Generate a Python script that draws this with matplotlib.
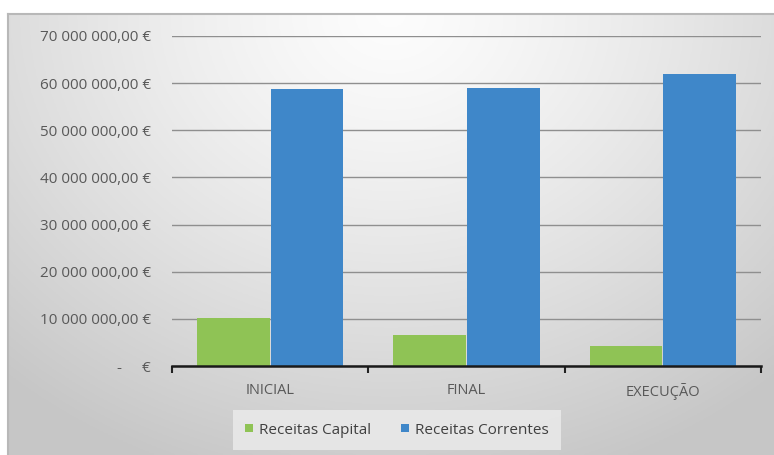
import numpy as np
import matplotlib.pyplot as plt
from matplotlib.ticker import FuncFormatter, FixedLocator

fases = ['INICIAL', 'FINAL', 'EXECUÇÃO']
receitas_capital = [10200000, 6600000, 4300000]
receitas_correntes = [58700000, 58900000, 61900000]

plt.rcParams['font.family'] = ['Open Sans', 'DejaVu Sans']

fig = plt.figure(figsize=(7.74, 4.55), dpi=100)
fig.patch.set_facecolor('white')

# fundo com gradiente radial (claro em cima ao centro, cinzento nos cantos)
bg = fig.add_axes([8 / 774, 0, 766 / 774, 441 / 455], zorder=-10)
yy, xx = np.mgrid[0:1:200j, 0:1:300j]
r = np.sqrt(((xx - 0.5) / 0.75) ** 2 + ((yy - 0.0) / 1.1) ** 2)
r = np.clip(r, 0, 1)
grad = 0.99 - 0.21 * r ** 1.3
bg.imshow(np.dstack([grad] * 3), aspect='auto', extent=[0, 1, 1, 0])
bg.set_axis_off()
bg.plot([0, 0], [0, 1], color='#b8b8b8', lw=1.5, transform=bg.transAxes, clip_on=False)
bg.plot([0, 1], [1, 1], color='#b8b8b8', lw=1.5, transform=bg.transAxes, clip_on=False)

ax = fig.add_axes([172 / 774, 1 - 366 / 455, (761 - 172) / 774, (366 - 36) / 455])
ax.patch.set_alpha(0)

x = np.arange(len(fases))
w = 0.37
ax.bar(x - 0.187, receitas_capital, w, color='#8fc355', label='Receitas Capital', zorder=3)
ax.bar(x + 0.187, receitas_correntes, w, color='#3f87c9', label='Receitas Correntes', zorder=3)

ax.set_xlim(-0.5, 2.5)
ax.set_ylim(0, 70000000)
ax.set_yticks(np.arange(0, 70000001, 10000000))


def euro(v, pos):
    if v == 0:
        return '-     €'
    return f'{v:,.2f} €'.replace(',', ' ').replace('.', ',')


ax.yaxis.set_major_formatter(FuncFormatter(euro))
ax.grid(axis='y', color='#8f8f8f', lw=1, zorder=0)
ax.tick_params(axis='y', length=0, pad=15, labelsize=11, labelcolor='#595959')

ax.set_xticks(x)
ax.set_xticklabels(fases)
ax.xaxis.set_minor_locator(FixedLocator([-0.5, 0.5, 1.5, 2.5]))
ax.tick_params(axis='x', which='major', length=0, pad=12, labelsize=10.5, labelcolor='#595959')
ax.tick_params(axis='x', which='minor', length=5, width=1.5, color='#222222', direction='out')

for s in ['top', 'right', 'left']:
    ax.spines[s].set_visible(False)
ax.spines['bottom'].set_color('#1a1a1a')
ax.spines['bottom'].set_linewidth(1.8)
ax.spines['bottom'].set_zorder(4)

leg = fig.legend(loc='center', bbox_to_anchor=(397 / 774, 1 - 430 / 455), ncol=2,
                 frameon=True, fontsize=11, handlelength=0.5, handleheight=0.5,
                 handletextpad=0.4, columnspacing=2.0, borderpad=0.8, fancybox=False)
leg.get_frame().set_facecolor('#ececec')
leg.get_frame().set_edgecolor('none')
for t in leg.get_texts():
    t.set_color('#404040')

fig.savefig('out.png', dpi=100)
